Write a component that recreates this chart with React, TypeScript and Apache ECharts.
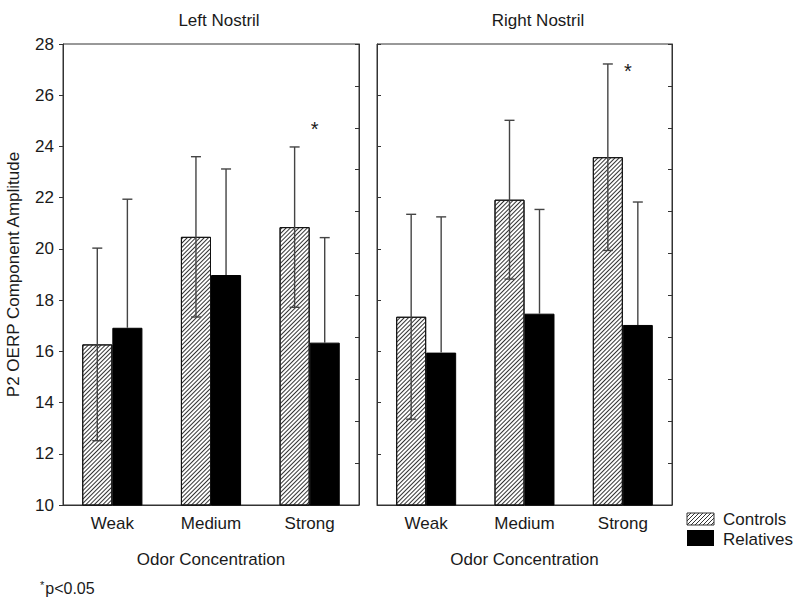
import React, { useEffect, useRef } from "react";
import * as echarts from "echarts";

const categories = ["Weak", "Medium", "Strong"];
const leftControls = [16.27, 20.47, 20.85];
const leftControlsErr = [3.76, 3.13, 3.13];
const leftRelatives = [16.92, 18.98, 16.34];
const leftRelativesErr = [5.02, 4.14, 4.1];
const rightControls = [17.35, 21.92, 23.58];
const rightControlsErr = [4.0, 3.1, 3.64];
const rightRelatives = [15.95, 17.47, 17.03];
const rightRelativesErr = [5.3, 4.07, 4.8];
const leftStars = [[2, 24.8]];
const rightStars = [[2, 27.08]];
const panelTitles = ["Left Nostril", "Right Nostril"];
const seriesNames = ["Controls", "Relatives"];

const FONT = "'Liberation Sans', Arial, sans-serif";
const INK = "#1a1a1a";
const FRAME = "#333";
const WHISK = "#444";

const hatch = {
  symbol: "rect",
  symbolSize: 1,
  dashArrayX: [1, 0],
  dashArrayY: [1, 2],
  rotation: -Math.PI / 4,
  color: "#333",
};

function errSeries(gridIdx: number, means: number[], errs: number[], side: number, both: boolean) {
  return {
    type: "custom",
    xAxisIndex: gridIdx,
    yAxisIndex: gridIdx * 2,
    z: 5,
    clip: false,
    data: means.map((m, i) => [i, m, errs[i]]),
    encode: { x: 0, y: 1 },
    renderItem: (params: any, api: any) => {
      const idx = api.value(0);
      const mean = api.value(1);
      const err = api.value(2);
      const band = api.size([1, 0])[0];
      const hi = api.coord([idx, mean + err]);
      const lo = api.coord([idx, both ? mean - err : mean]);
      const x = hi[0] + side * band * 0.1525;
      const cap = 5;
      const style = { stroke: WHISK, lineWidth: 1.4 };
      const children: any[] = [
        { type: "line", shape: { x1: x, y1: hi[1], x2: x, y2: lo[1] }, style },
        { type: "line", shape: { x1: x - cap, y1: hi[1], x2: x + cap, y2: hi[1] }, style },
      ];
      if (both) {
        children.push({ type: "line", shape: { x1: x - cap, y1: lo[1], x2: x + cap, y2: lo[1] }, style });
      }
      return { type: "group", children };
    },
  };
}

function starSeries(gridIdx: number, pts: number[][]) {
  return {
    type: "custom",
    xAxisIndex: gridIdx,
    yAxisIndex: gridIdx * 2,
    z: 6,
    clip: false,
    data: pts,
    encode: { x: 0, y: 1 },
    renderItem: (params: any, api: any) => {
      const p = api.coord([api.value(0), api.value(1)]);
      return {
        type: "text",
        x: p[0] + 5,
        y: p[1] + 3,
        style: { text: "*", fontSize: 20, fontFamily: FONT, fill: INK, align: "center", verticalAlign: "middle" },
      };
    },
  };
}

function barSeries(gridIdx: number, name: string, vals: number[], hatched: boolean) {
  return {
    type: "bar",
    name,
    xAxisIndex: gridIdx,
    yAxisIndex: gridIdx * 2,
    barCategoryGap: "39%",
    barGap: "0%",
    data: vals,
    itemStyle: hatched
      ? { color: "#fff", borderColor: "#111", borderWidth: 1, decal: hatch }
      : { color: "#000", borderColor: "#000", borderWidth: 1 },
  };
}

export default function App() {
  const ref = useRef<HTMLDivElement>(null);
  useEffect(() => {
    if (!ref.current) return;
    const chart = echarts.init(ref.current, undefined, { renderer: "svg" });
    const grids = [
      { left: 63, top: 44, width: 296, height: 461 },
      { left: 377, top: 44, width: 295, height: 461 },
    ];
    const xAxes = grids.map((_, gi) => ({
      type: "category",
      gridIndex: gi,
      data: categories,
      axisLine: { show: true, lineStyle: { color: FRAME, width: 1 } },
      axisTick: { show: false },
      axisLabel: { fontSize: 17, fontFamily: FONT, color: INK, margin: 10 },
      name: "Odor Concentration",
      nameLocation: "middle",
      nameGap: 46,
      nameTextStyle: { fontSize: 17, fontFamily: FONT, color: INK, verticalAlign: "top" },
    }));
    const yAxes: any[] = [];
    grids.forEach((_, gi) => {
      yAxes.push({
        type: "value",
        gridIndex: gi,
        position: "left",
        min: 10,
        max: 28,
        interval: 2,
        splitLine: { show: false },
        axisLine: { show: true, lineStyle: { color: FRAME, width: 1 } },
        axisTick: { show: true, inside: gi === 1, length: 4, lineStyle: { color: FRAME } },
        axisLabel: { show: gi === 0, fontSize: 17, fontFamily: FONT, color: INK, margin: 9 },
        name: gi === 0 ? "P2 OERP Component Amplitude" : "",
        nameLocation: "middle",
        nameGap: 41,
        nameTextStyle: { fontSize: 17, fontFamily: FONT, color: INK },
      });
      yAxes.push({
        type: "value",
        gridIndex: gi,
        position: "right",
        min: 0,
        max: 11,
        interval: 1,
        splitLine: { show: false },
        axisLine: { show: true, lineStyle: { color: FRAME, width: 1 } },
        axisTick: { show: true, inside: true, length: 4, lineStyle: { color: FRAME } },
        axisLabel: { show: false },
      });
    });

    const legendX = 687;
    const hatchLines: any[] = [];
    for (let k = -12; k < 30; k += 4) {
      const x0 = legendX + k;
      let x1 = x0, y1 = 525, x2 = x0 + 12, y2 = 513;
      if (x1 < legendX) { y1 = 525 - (legendX - x1); x1 = legendX; }
      if (x2 > legendX + 27) { y2 = 513 + (x2 - (legendX + 27)); x2 = legendX + 27; }
      if (x1 >= x2) continue;
      hatchLines.push({ type: "line", shape: { x1, y1, x2, y2 }, style: { stroke: "#333", lineWidth: 1 } });
    }

    chart.setOption({
      animation: false,
      backgroundColor: "#fff",
      title: [
        { text: panelTitles[0], left: 214, top: 7, textAlign: "center", textStyle: { fontSize: 17, fontWeight: "normal", fontFamily: FONT, color: INK } },
        { text: panelTitles[1], left: 533, top: 7, textAlign: "center", textStyle: { fontSize: 17, fontWeight: "normal", fontFamily: FONT, color: INK } },
      ],
      grid: grids.map((g) => ({ ...g, show: true, borderColor: FRAME, borderWidth: 1, backgroundColor: "#fff" })),
      xAxis: xAxes,
      yAxis: yAxes,
      series: [
        barSeries(0, seriesNames[0], leftControls, true),
        barSeries(0, seriesNames[1], leftRelatives, false),
        barSeries(1, seriesNames[0], rightControls, true),
        barSeries(1, seriesNames[1], rightRelatives, false),
        errSeries(0, leftControls, leftControlsErr, -1, true),
        errSeries(0, leftRelatives, leftRelativesErr, 1, false),
        errSeries(1, rightControls, rightControlsErr, -1, true),
        errSeries(1, rightRelatives, rightRelativesErr, 1, false),
        starSeries(0, leftStars),
        starSeries(1, rightStars),
      ],
      graphic: [
        { type: "rect", shape: { x: legendX, y: 513, width: 27, height: 12 }, style: { fill: "#fff", stroke: "#333", lineWidth: 1 } },
        ...hatchLines,
        { type: "rect", shape: { x: legendX, y: 530, width: 27, height: 16 }, style: { fill: "#000" } },
        { type: "text", x: 723, y: 519, style: { text: seriesNames[0], fontSize: 17, fontFamily: FONT, fill: INK, verticalAlign: "middle" } },
        { type: "text", x: 723, y: 539, style: { text: seriesNames[1], fontSize: 17, fontFamily: FONT, fill: INK, verticalAlign: "middle" } },
        {
          type: "text",
          x: 40,
          y: 588,
          style: {
            text: "{a|*}{b|p<0.05}",
            fontFamily: FONT,
            verticalAlign: "middle",
            rich: {
              a: { fontSize: 11, fontFamily: FONT, fill: INK, verticalAlign: "top", padding: [0, 1, 6, 0] },
              b: { fontSize: 16, fontFamily: FONT, fill: INK },
            },
          },
        },
      ],
    });
    return () => chart.dispose();
  }, []);
  return <div ref={ref} style={{ position: "fixed", left: 0, top: 0, width: 800, height: 604 }} />;
}
